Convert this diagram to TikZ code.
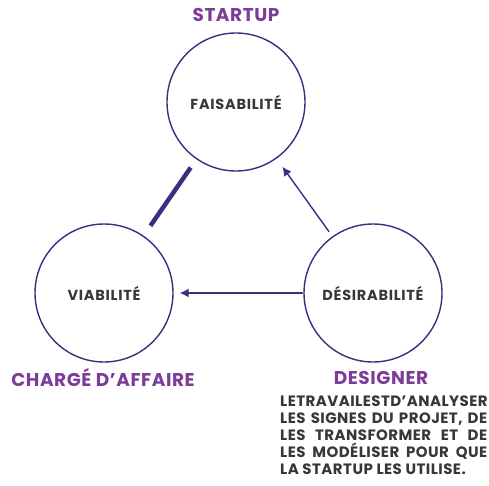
\documentclass[tikz,border=0pt]{standalone}
\usepackage{fontspec}
\setmainfont{Poppins}
\newfontfamily\titrefont[LetterSpace=3]{Poppins}
\newfontfamily\cerclefont[LetterSpace=5]{Poppins}
\newfontfamily\textefont[LetterSpace=3]{Poppins}
\usetikzlibrary{arrows.meta}
\definecolor{violet1}{RGB}{58,46,130}
\definecolor{mauve1}{RGB}{125,60,152}
\definecolor{gris1}{RGB}{55,55,55}
\newcommand{\ligne}[1]{\makebox[207pt][s]{#1}}
\begin{document}
\begin{tikzpicture}[x=1pt,y=-1pt,line cap=round,line join=round,
	cercle/.style={circle,draw=violet1,line width=1.4pt,minimum size=138pt,inner sep=0pt,
		font=\cerclefont\bfseries\fontsize{14.5}{16}\selectfont,text=gris1},
	titre/.style={font=\titrefont\bfseries\fontsize{18.5}{20}\selectfont,text=mauve1},
	fleche/.style={draw=violet1,line width=1.4pt,-{Latex[length=9pt,width=9pt]}}]
	
	\useasboundingbox (0,0) rectangle (489,486);
	
	%cercles
	\node[cercle] (fa) at (236,102) {FAISABILITÉ};
	\node[cercle] (vi) at (104,293) {VIABILITÉ};
	\node[cercle] (de) at (373,293) {DÉSIRABILITÉ};
	
	%titres
	\node[titre] (st) at (236,15) {STARTUP};
	\node[titre] (ch) at (103,378) {CHARGÉ D’AFFAIRE};
	\node[titre] (dsg) at (381,378) {DESIGNER};
	
	%texte designer
	\node[anchor=north west,inner sep=0pt,align=left,text=gris1,
		font=\textefont\bfseries\fontsize{15}{17}\selectfont] (txt) at (280,396)
	{LETRAVAILESTD’ANALYSER\\
		\ligne{LES SIGNES DU PROJET, DE}\\
		\ligne{LES TRANSFORMER ET DE}\\
		\ligne{LES MODÉLISER POUR QUE}\\
		LA STARTUP LES UTILISE.};
	
	%liens
	\draw[violet1,line width=4.5pt,line cap=butt,shorten <=10pt,shorten >=12pt] (fa) -- (vi);
	\draw[fleche,shorten <=6pt,shorten >=10pt] (de) -- (fa);
	\draw[fleche,shorten <=1pt,shorten >=6pt] (de) -- (vi);
\end{tikzpicture}
\end{document}
